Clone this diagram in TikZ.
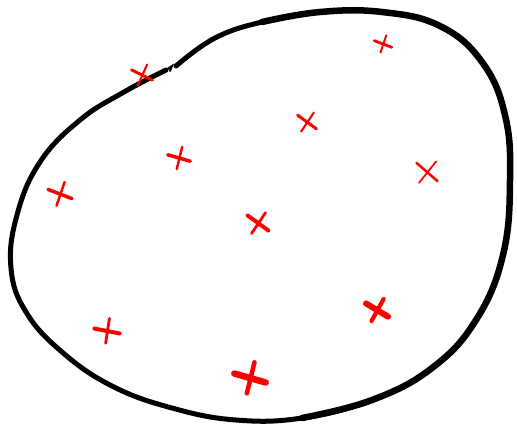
\documentclass[tikz,border=0pt]{standalone}
\usetikzlibrary{calc}

\tikzset{
  outline/.style={line width=5bp, line cap=round, line join=round},
  stroke/.style={red, line cap=round},
}

\begin{document}
\begin{tikzpicture}[x=1bp, y=-1bp]
  \useasboundingbox (0,0) rectangle (517,429);
  % the blob
  \draw[outline] plot[smooth, tension=0.7] coordinates {
    (176,66) (215,38) (262,22) (320,12) (382,12) (440,26) (482,62)
    (505,115) (510,180) (503,255) (476,320) (432,368) (372,400)
    (302,418) (236,420) (172,408) (112,386) (62,352) (26,312)
    (11,268) (17,215) (40,162) (80,120) (124,92) (166,70)};
  \draw[outline, line width=6.5bp] plot[smooth, tension=0.7] coordinates {
    (262,22) (320,12) (382,12) (440,26) (482,62) (505,115) (510,180)
    (503,255) (476,320) (432,368) (372,400) (302,418)};
  \draw[line width=2bp, line cap=round] (166,70) -- (172,66) -- (170,71);
  % crosses: x, y, size, angle, width
  \foreach \cx/\cy/\s/\a/\w in {
      142/75/10/5/3, 383/44/8/10/2.8, 307/122/10/-5/3,
      179/158/10/15/3.5, 427/172/12/-10/2.5, 60/194/11/10/3.5,
      258/223/11/-5/4, 107/331/11/20/4, 377/310/11/0/6,
      250/378/14/15/6.5} {
    \draw[stroke, line width=\w bp, rotate around={\a:(\cx,\cy)}]
      (\cx-\s,\cy-0.6*\s) -- (\cx+\s,\cy+0.6*\s);
    \draw[stroke, line width=0.7*\w bp, rotate around={\a:(\cx,\cy)}]
      (\cx+0.6*\s,\cy-\s) -- (\cx-0.5*\s,\cy+\s);
  }
\end{tikzpicture}
\end{document}
